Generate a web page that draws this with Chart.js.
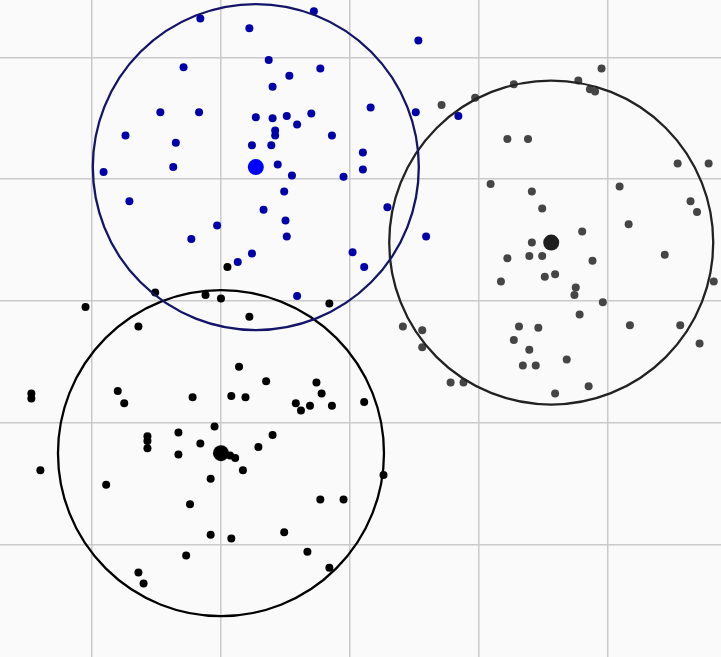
<!DOCTYPE html>
<html>
<head>
<meta charset="utf-8">
<script src="https://cdn.jsdelivr.net/npm/chart.js@4"></script>
<style>
  body { margin: 0; background: #fafafa; }
  canvas { display: block; }
</style>
</head>
<body>
<canvas id="chart" width="721" height="657"></canvas>
<script>
// cluster points (grid step = 1)
let bluePoints = [
    [-1.16, 2.32], [-0.78, 2.24], [-0.28, 2.38], [0.53, 2.14], [-1.29, 1.92],
    [-0.63, 1.98], [-0.23, 1.91], [-0.47, 1.85], [-0.60, 1.76], [-1.47, 1.55],
    [-1.17, 1.55], [-0.73, 1.51], [-0.60, 1.50], [-0.49, 1.52], [-0.41, 1.45],
    [-0.30, 1.54], [0.16, 1.59], [0.51, 1.55], [0.84, 1.52], [-1.74, 1.36],
    [-1.35, 1.30], [-0.58, 1.40], [-0.58, 1.36], [-0.14, 1.36], [-0.76, 1.28],
    [-0.61, 1.28], [0.10, 1.22], [-1.37, 1.10], [-1.91, 1.06], [-0.56, 1.12],
    [-0.45, 1.03], [-0.05, 1.02], [0.10, 1.08], [-1.71, 0.82], [-0.51, 0.90],
    [-0.67, 0.75], [-0.50, 0.66], [0.29, 0.77], [-1.03, 0.62], [-1.23, 0.51],
    [-0.87, 0.32], [-0.76, 0.39], [-0.49, 0.53], [0.02, 0.40], [0.11, 0.28],
    [0.59, 0.53], [-0.41, 0.04]
]

let grayPoints = [
    [1.95, 1.91], [1.27, 1.78], [1.77, 1.81], [1.86, 1.74], [1.90, 1.72],
    [0.71, 1.61], [0.97, 1.67], [1.22, 1.33], [1.38, 1.33], [2.54, 1.13],
    [2.78, 1.13], [1.09, 0.96], [1.41, 0.90], [2.09, 0.94], [1.49, 0.76],
    [2.64, 0.82], [2.69, 0.73], [2.16, 0.63], [1.80, 0.57], [1.41, 0.48],
    [1.22, 0.35], [1.39, 0.37], [1.49, 0.37], [1.88, 0.33], [2.44, 0.38],
    [1.51, 0.20], [1.59, 0.22], [1.17, 0.16], [1.75, 0.11], [1.74, 0.05],
    [1.96, -0.01], [2.82, 0.16], [1.78, -0.11], [1.31, -0.21], [1.46, -0.22],
    [2.17, -0.20], [2.56, -0.20], [1.27, -0.32], [2.71, -0.35], [1.39, -0.40],
    [1.34, -0.53], [1.44, -0.53], [1.68, -0.48], [1.85, -0.70], [1.59, -0.76],
    [0.41, -0.21], [0.56, -0.24], [0.56, -0.38], [0.78, -0.67], [0.88, -0.67]
]

let blackPoints = [
    [-1.12, 0.05], [-1.00, 0.02], [-0.95, 0.28], [-1.51, 0.07], [-2.05, -0.05],
    [-1.64, -0.21], [-0.16, -0.02], [-0.78, -0.13], [-0.86, -0.54], [-1.80, -0.74],
    [-1.75, -0.84], [-2.47, -0.76], [-2.47, -0.80], [-1.22, -0.79], [-0.92, -0.78],
    [-0.81, -0.79], [-0.65, -0.66], [-0.26, -0.67], [-0.22, -0.76], [-0.42, -0.84],
    [-0.38, -0.90], [-0.31, -0.86], [-0.14, -0.86], [0.11, -0.83], [-1.05, -1.03],
    [-1.33, -1.08], [-1.57, -1.11], [-1.57, -1.15], [-1.57, -1.21], [-0.60, -1.10],
    [-1.33, -1.26], [-1.16, -1.17], [-0.93, -1.27], [-0.89, -1.29], [-0.71, -1.20],
    [-0.83, -1.39], [-2.40, -1.39], [-1.89, -1.51], [-1.08, -1.46], [-1.24, -1.67],
    [-1.08, -1.92], [-0.92, -1.95], [-1.27, -2.09], [-1.64, -2.23], [-1.60, -2.32],
    [0.26, -1.43], [-0.23, -1.63], [-0.05, -1.63], [-0.51, -1.90], [-0.33, -2.06],
    [-0.16, -2.19]
]

// cluster centres: blue, gray, black
let centerX = [-0.73, 1.56, -1.00]
let centerY = [1.10, 0.48, -1.25]

let xTicks = [-2, -1, 0, 1, 2]
let yTicks = [-2, -1, 0, 1, 2]


function toXY(list) {
    return list.map(p => ({ x: p[0], y: p[1] }))
}


function centre(i) {
    return [{ x: centerX[i], y: centerY[i] }]
}


function cloud(list, color) {
    return {
        data: toXY(list),
        pointRadius: 4,
        pointBackgroundColor: color,
        pointBorderWidth: 0,
        order: 3
    }
}


function ring(i, color, r) {
    return {
        data: centre(i),
        pointRadius: r,
        pointBackgroundColor: 'rgba(0,0,0,0)',
        pointBorderColor: color,
        pointBorderWidth: 2.3,
        clip: false,
        order: 1
    }
}


function dot(i, color) {
    return {
        data: centre(i),
        pointRadius: 8,
        pointBackgroundColor: color,
        pointBorderWidth: 0,
        order: 2
    }
}


function axis(min, max, ticks) {
    return {
        type: 'linear',
        min: min,
        max: max,
        // put the grid exactly on the listed ticks
        afterBuildTicks: function (scale) {
            scale.ticks = ticks.map(v => ({ value: v }))
        },
        ticks: { display: false },
        border: { display: false },
        grid: { color: '#cacaca', lineWidth: 1.5, drawTicks: false }
    }
}


let ctx = document.getElementById('chart')

chart = new Chart(ctx, {
    type: 'scatter',
    data: {
        datasets: [
            cloud(bluePoints, '#0000aa'),
            cloud(grayPoints, '#454545'),
            cloud(blackPoints, '#000000'),
            dot(0, '#0000ff'),
            dot(1, '#1e1e1e'),
            dot(2, '#000000'),
            ring(0, '#14146a', 163),
            ring(1, '#222222', 162),
            ring(2, '#000000', 163)
        ]
    },
    options: {
        responsive: false,
        animation: false,
        layout: { padding: 0, autoPadding: false },
        scales: {
            x: axis(-2.713, 2.876, xTicks),
            y: axis(-2.924, 2.472, yTicks)
        },
        plugins: {
            legend: { display: false },
            tooltip: { enabled: false }
        }
    }
})
</script>
</body>
</html>
